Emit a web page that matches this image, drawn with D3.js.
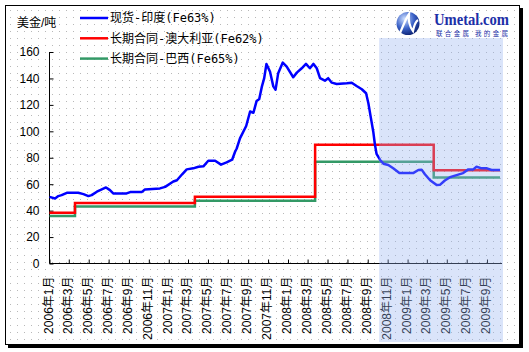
<!DOCTYPE html>
<html>
<head>
<meta charset="utf-8">
<script src="https://cdn.jsdelivr.net/npm/d3@7"></script>
<style>
  body { margin: 0; background: #fff; }
  svg { display: block; }
</style>
</head>
<body>
<svg id="chart" width="529" height="352"></svg>
<script>
// spot price India Fe63% (weekly-ish readings)
var spotDates = ["2006-01-01","2006-01-18","2006-01-28","2006-02-07","2006-02-23","2006-03-30","2006-04-15","2006-04-30","2006-05-10","2006-05-26","2006-06-10","2006-06-23","2006-07-05","2006-07-15","2006-08-25","2006-09-05","2006-10-10","2006-10-20","2006-12-05","2006-12-21",
  "2007-01-15","2007-01-26","2007-02-11","2007-02-25","2007-03-17","2007-04-02","2007-04-17","2007-05-02","2007-05-23","2007-06-10","2007-06-27","2007-07-14","2007-07-23","2007-07-28","2007-08-07","2007-08-26","2007-09-07","2007-09-17","2007-09-27","2007-10-05","2007-10-13","2007-10-20","2007-10-27","2007-11-07","2007-11-17","2007-11-24","2007-12-02","2007-12-16","2007-12-28",
  "2008-01-17","2008-01-28","2008-02-12","2008-02-25","2008-03-08","2008-03-19","2008-03-29","2008-04-08","2008-04-23","2008-05-03","2008-05-14","2008-05-29","2008-06-29","2008-07-14","2008-07-29","2008-08-14","2008-08-27","2008-09-03","2008-09-10","2008-09-18","2008-09-23","2008-09-28","2008-10-09","2008-10-19","2008-11-03","2008-11-18","2008-12-07",
  "2009-01-18","2009-02-03","2009-02-13","2009-02-23","2009-03-11","2009-03-31","2009-04-10","2009-04-25","2009-05-11","2009-05-31","2009-06-20","2009-07-06","2009-07-21","2009-07-31","2009-08-16","2009-09-01","2009-09-15","2009-10-11"];
var spotValues = [50.4,49.2,51,51.7,53.5,53.5,52.5,51,51.7,54.3,56,57.5,55.5,53,53,54,54,56,56.8,58,
  62,63,67.5,71.2,72,73.2,73.5,77.7,77.7,74.8,76.5,78.5,84.5,87,94.7,104,115,114,123,124.5,133.8,140,151,145,134,131.5,144,152,149,
  140.9,144.4,147.7,151,147.7,151,147.7,140.2,138.3,140.2,136.8,135.8,136.4,136.8,134.3,131.8,128.8,121.2,111.1,99.7,90,83,78.3,75.5,74.5,72,68.4,
  68.4,70.7,71,67.5,63,59.3,59.5,62.8,65.3,66.9,68.4,71.2,71.2,73.2,72,72,70.7,70.7];

// long-term contract prices, changing on these dates
var contractDates = ["2006-01-01","2006-03-20","2007-03-22","2008-03-24","2009-03-22","2009-10-11"];
var ausValues = [38.3,45.7,50.5,89.8,70.5,70.5];
var braValues = [36,43.2,47.4,77,65,65];

var seriesNames = ["现货-印度(Fe63%)", "长期合同-澳大利亚(Fe62%)", "长期合同-巴西(Fe65%)"];
var seriesColors = ["#0000ff", "#ff0000", "#339966"];

var yTicks = [0,20,40,60,80,100,120,140,160];
var tickMonths = ["2006-01","2006-03","2006-05","2006-07","2006-09","2006-11",
  "2007-01","2007-03","2007-05","2007-07","2007-09","2007-11",
  "2008-01","2008-03","2008-05","2008-07","2008-09","2008-11",
  "2009-01","2009-03","2009-05","2009-07","2009-09"];
var shadeFrom = "2008-10-06";

var parse = d3.timeParse("%Y-%m-%d");
var parseMonth = d3.timeParse("%Y-%m");

var svg = d3.select("#chart");
var defs = svg.append("defs");

var dots = defs.append("pattern")
  .attr("id", "dots")
  .attr("patternUnits", "userSpaceOnUse")
  .attr("width", 7).attr("height", 7);
dots.append("rect").attr("x", 3).attr("y", 3).attr("width", 1).attr("height", 1).attr("fill", "#b8b8b8");

var glob = defs.append("radialGradient").attr("id", "glob").attr("cx", "35%").attr("cy", "30%").attr("r", "75%");
glob.append("stop").attr("offset", "0%").attr("stop-color", "#cfe0ff");
glob.append("stop").attr("offset", "55%").attr("stop-color", "#3b62c8");
glob.append("stop").attr("offset", "100%").attr("stop-color", "#0b2172");

// frame with shadow
svg.append("rect").attr("x", 8).attr("y", 8).attr("width", 515).attr("height", 340).attr("fill", "#000");
svg.append("rect").attr("x", 5.5).attr("y", 5.5).attr("width", 514).attr("height", 339)
  .attr("fill", "#fff").attr("stroke", "#000");
svg.append("rect").attr("x", 6).attr("y", 6).attr("width", 513).attr("height", 338).attr("fill", "url(#dots)");

var x = d3.scaleTime()
  .domain([parse("2006-01-01"), parse("2009-10-17")])
  .range([49.5, 502]);
var y = d3.scaleLinear()
  .domain([0, 160])
  .range([263.5, 52]);

var font = "'Liberation Sans', 'Noto Sans CJK SC', sans-serif";

// y axis
var yAxis = d3.axisLeft(y).tickValues(yTicks).tickSize(-4).tickPadding(10);
var gy = svg.append("g").attr("transform", "translate(49.5,0)").call(yAxis);
gy.select(".domain").attr("d", "M0," + y(160) + "V" + y(0));
gy.selectAll("line").attr("stroke", "#000");
gy.selectAll("text").style("font-family", font).style("font-size", "12px").attr("fill", "#000");

// x axis
var xAxis = d3.axisBottom(x).tickValues(tickMonths.map(parseMonth)).tickSize(-4)
  .tickFormat(d => d.getFullYear() + "年" + (d.getMonth() + 1) + "月");
var gx = svg.append("g").attr("transform", "translate(0,263.5)").call(xAxis);
gx.select(".domain").attr("d", "M49.5,0H502");
gx.selectAll("line").attr("stroke", "#000");
gx.selectAll("text")
  .style("font-family", font).style("font-size", "12px").attr("fill", "#000")
  .attr("transform", "rotate(-90)")
  .attr("x", -13).attr("y", -1.5).attr("dy", "0.35em")
  .style("text-anchor", "end");

svg.append("text").attr("x", 17).attr("y", 27)
  .style("font-family", font).style("font-size", "12px")
  .text("美金/吨");

// lines
var spot = spotDates.map((d, i) => ({date: parse(d), value: spotValues[i]}));
var aus = contractDates.map((d, i) => ({date: parse(d), value: ausValues[i]}));
var bra = contractDates.map((d, i) => ({date: parse(d), value: braValues[i]}));

var stepLine = d3.line().x(d => x(d.date)).y(d => y(d.value)).curve(d3.curveStepAfter);
var plainLine = d3.line().x(d => x(d.date)).y(d => y(d.value));

svg.append("path").datum(bra).attr("d", stepLine)
  .attr("fill", "none").attr("stroke", seriesColors[2]).attr("stroke-width", 2.5);
svg.append("path").datum(aus).attr("d", stepLine)
  .attr("fill", "none").attr("stroke", seriesColors[1]).attr("stroke-width", 2.5);
svg.append("path").datum(spot).attr("d", plainLine)
  .attr("fill", "none").attr("stroke", seriesColors[0]).attr("stroke-width", 2.5)
  .attr("stroke-linejoin", "round");

// shaded forecast area, drawn over the lines
var sx = x(parse(shadeFrom));
svg.append("rect")
  .attr("x", sx).attr("y", 38)
  .attr("width", x.range()[1] + 1 - sx).attr("height", 304)
  .attr("fill", "rgb(150,178,240)").attr("opacity", 0.35);

// legend
var legend = svg.append("g").selectAll("g")
  .data(seriesNames)
  .join("g")
  .attr("transform", (d, i) => "translate(0," + (18 + i * 20.3) + ")");
legend.append("line")
  .attr("x1", 80).attr("x2", 108)
  .attr("stroke", (d, i) => seriesColors[i]).attr("stroke-width", 2.5);
legend.append("text")
  .attr("x", 110).attr("dy", "0.36em")
  .style("font-family", "'DejaVu Sans Mono', 'Noto Sans CJK SC', monospace")
  .style("font-size", "12px")
  .text(d => d);

// logo
var logo = svg.append("g");
logo.append("circle").attr("cx", 408).attr("cy", 23.5).attr("r", 11.5).attr("fill", "url(#glob)");
logo.append("path").attr("d", "M400,33 C404,24 406,18 409,14 C408,22 410,27 413,31 C414,26 415,22 418,20")
  .attr("fill", "none").attr("stroke", "#fff").attr("stroke-width", 2.2);
logo.append("text").attr("x", 434).attr("y", 25)
  .style("font-family", "'Liberation Serif', serif").style("font-weight", "bold")
  .style("font-size", "16px").attr("fill", "#1c2fa8")
  .attr("textLength", 75).attr("lengthAdjust", "spacingAndGlyphs")
  .text("Umetal.com");
logo.append("text").attr("x", 436).attr("y", 36)
  .style("font-family", "'Noto Sans CJK SC', sans-serif").style("font-size", "6.5px")
  .attr("fill", "#1c2fa8")
  .attr("textLength", 72).attr("lengthAdjust", "spacing")
  .text("联合金属 我的金属");
</script>
</body>
</html>
